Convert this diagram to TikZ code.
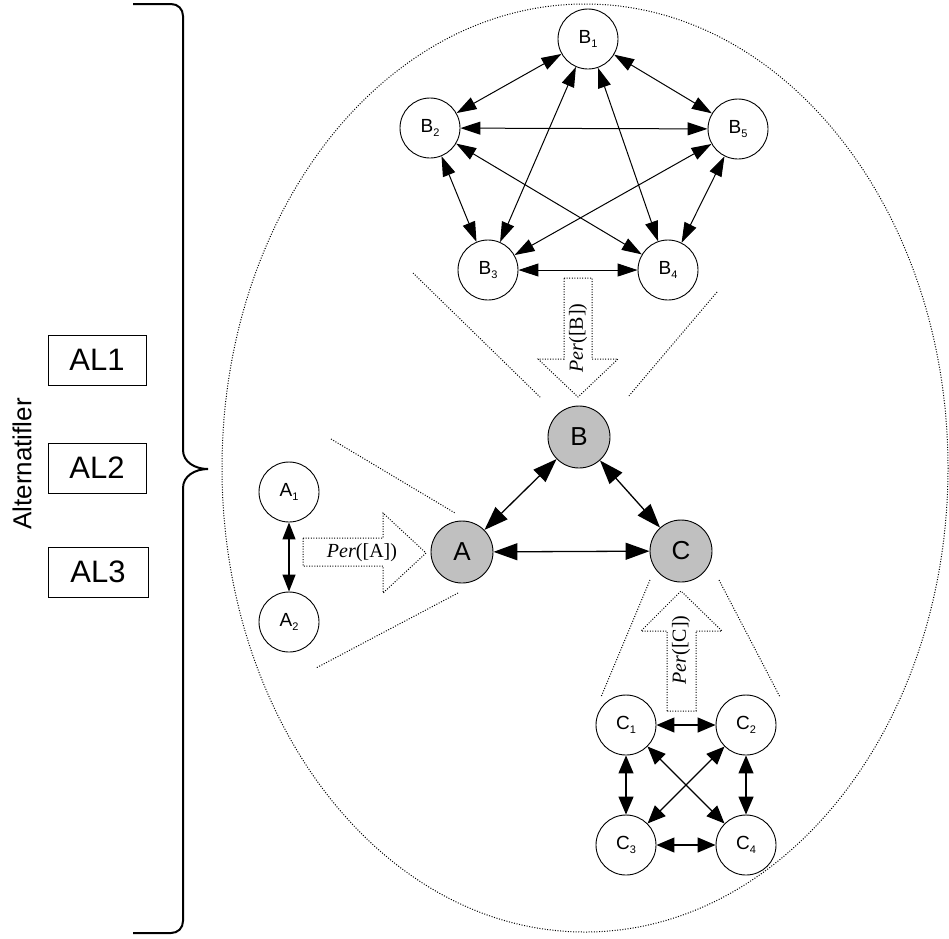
\documentclass[tikz,border=0pt]{standalone}
\usepackage{fontspec}
\setmainfont{Liberation Sans}
\newfontfamily\serifff{Liberation Serif}
\usetikzlibrary{arrows.meta}
\definecolor{nodegray}{RGB}{192,192,192}
\newcommand{\mysub}[1]{\raisebox{-0.45ex}{\fontsize{11}{11}\selectfont #1}}
\begin{document}
\begin{tikzpicture}[x=1pt,y=-1pt,
  small/.style={circle,draw,line width=0.9pt,minimum size=60pt,inner sep=0pt,font=\fontsize{19}{19}\selectfont},
  big/.style={circle,draw,fill=nodegray,line width=0.9pt,minimum size=62pt,inner sep=0pt,font=\fontsize{26}{26}\selectfont},
  bedge/.style={{Triangle[length=20pt,width=13pt]}-{Triangle[length=20pt,width=13pt]},line width=1pt},
  mainedge/.style={{Triangle[length=24pt,width=17pt]}-{Triangle[length=24pt,width=17pt]},line width=1.3pt},
  cedge/.style={{Triangle[length=18pt,width=15pt]}-{Triangle[length=18pt,width=15pt]},line width=1.3pt},
  aedge/.style={{Triangle[length=17pt,width=13pt]}-{Triangle[length=17pt,width=13pt]},line width=1.3pt},
  dotline/.style={dash pattern=on 1pt off 1.6pt,line width=1pt},
  cone/.style={dotline},
  perarrow/.style={dotline},
  pertext/.style={font=\serifff\fontsize{20}{20}\selectfont,inner sep=0pt},
  albox/.style={draw,line width=1pt,minimum width=98pt,minimum height=50pt,inner sep=0pt,font=\fontsize{31}{31}\selectfont}
]
\useasboundingbox (0,0) rectangle (949,938);

% dotted ellipse
\draw[dotline] (585,468) ellipse [x radius=363, y radius=464];

% brace
\draw[line width=2pt] (133,4) -- (171,4) .. controls (178,4) and (183,9) .. (183,16)
  -- (183,450) .. controls (183,462) and (195,469) .. (208,469)
  .. controls (195,469) and (183,476) .. (183,488)
  -- (183,921) .. controls (183,928) and (178,933) .. (171,933) -- (133,933);

% left labels
\node[rotate=90,font=\fontsize{26}{26}\selectfont,inner sep=0pt] (alt) at (22,464) {Alternatifler};
\node[albox] (al1) at (97,360) {AL1};
\node[albox] (al2) at (97,468) {AL2};
\node[albox,minimum width=100pt] (al3) at (98,572) {AL3};

% cone lines
\draw[cone] (413,273) -- (541,398);
\draw[cone] (717,292) -- (628,397);
\draw[cone] (331,439) -- (455,513);
\draw[cone] (458,593) -- (316,668);
\draw[cone] (650,580) -- (601,697);
\draw[cone] (719,580) -- (780,697);

% Per block arrows
\draw[perarrow] (564,278) -- (592,278) -- (592,359) -- (618,359) -- (578,397) -- (538,359) -- (564,359) -- cycle;
\draw[perarrow] (303,538) -- (383,538) -- (383,513) -- (426,553) -- (383,593) -- (383,566) -- (303,566) -- cycle;
\draw[perarrow] (667,711) -- (667,631) -- (641,631) -- (681,591) -- (722,631) -- (696,631) -- (696,711) -- cycle;
\node[pertext,rotate=90] (perB) at (578,338) {\textit{Per}([B])};
\node[pertext] (perA) at (362,553) {\textit{Per}([A])};
\node[pertext,rotate=90] (perC) at (681,650) {\textit{Per}([C])};

% B group
\node[small] (B1) at (588,39) {B\mysub{1}};
\node[small] (B2) at (430,128) {B\mysub{2}};
\node[small] (B5) at (738,129) {B\mysub{5}};
\node[small] (B3) at (488,270) {B\mysub{3}};
\node[small] (B4) at (668,270) {B\mysub{4}};
\draw[bedge] (B1) -- (B2);
\draw[bedge] (B1) -- (B5);
\draw[bedge] (B1) -- (B3);
\draw[bedge] (B1) -- (B4);
\draw[bedge] (B2) -- (B5);
\draw[bedge] (B2) -- (B3);
\draw[bedge] (B2) -- (B4);
\draw[bedge] (B3) -- (B4);
\draw[bedge] (B3) -- (B5);
\draw[bedge] (B4) -- (B5);

% main triangle
\node[big] (B) at (579,437) {B};
\node[big] (A) at (462,552) {A};
\node[big] (C) at (681,551) {C};
\draw[mainedge] (A) -- (B);
\draw[mainedge] (B) -- (C);
\draw[mainedge] (A) -- (C);

% A group
\node[small] (A1) at (289,492) {A\mysub{1}};
\node[small] (A2) at (289,622) {A\mysub{2}};
\draw[aedge] (A1) -- (A2);

% C group
\node[small] (C1) at (626,725) {C\mysub{1}};
\node[small] (C2) at (746,725) {C\mysub{2}};
\node[small] (C3) at (626,845) {C\mysub{3}};
\node[small] (C4) at (746,845) {C\mysub{4}};
\draw[cedge] (C1) -- (C2);
\draw[cedge] (C1) -- (C3);
\draw[cedge] (C1) -- (C4);
\draw[cedge] (C2) -- (C3);
\draw[cedge] (C2) -- (C4);
\draw[cedge] (C3) -- (C4);
\end{tikzpicture}
\end{document}
